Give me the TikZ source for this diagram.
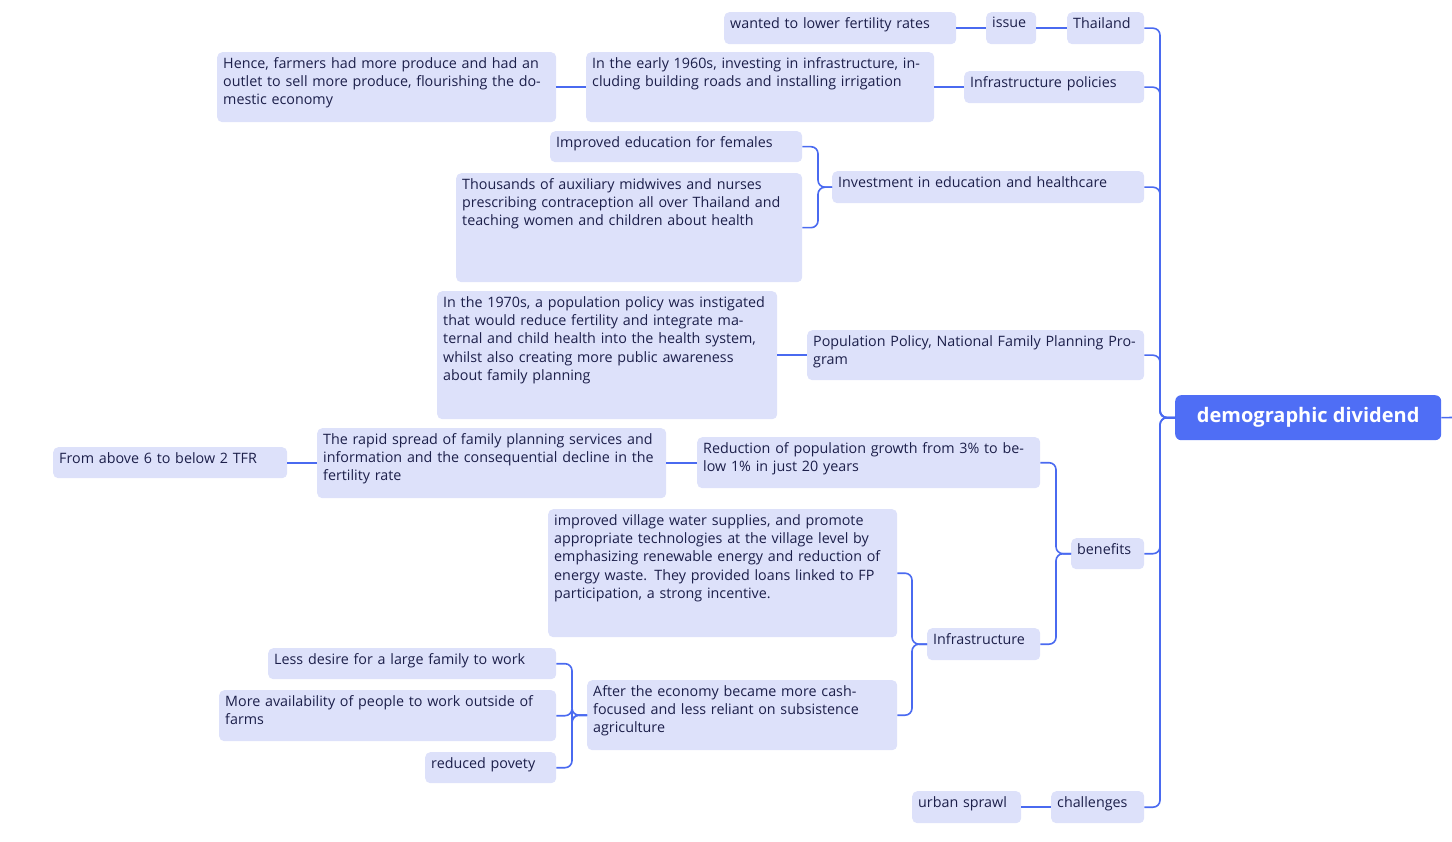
\documentclass[tikz,border=0pt]{standalone}
\usepackage{fontspec}
\setmainfont{Open Sans}
\definecolor{bfill}{HTML}{DDE1FA}
\definecolor{lnc}{HTML}{4A6AF0}
\definecolor{rootc}{HTML}{4F6EF5}
\definecolor{txt}{HTML}{1C1F4A}
\newcommand{\bx}[6]{%
  \node[boxs,minimum width={#4-#2},minimum height={#5-#3},anchor=north west] (#1) at (#2,#3) {};
  \node[txts,text width={#4-#2-12}] (#1t) at ([xshift=6,yshift=-5]#1.north west) {#6};}
\begin{document}
\begin{tikzpicture}[x=1pt,y=-1pt,
  boxs/.style={fill=bfill,rounded corners=5pt,inner sep=0pt,draw=none},
  txts/.style={anchor=north west,inner sep=0pt,align=left,text=txt,font=\fontsize{14.3}{18.4}\selectfont},
  ln/.style={draw=lnc,line width=1.6pt,rounded corners=7pt}]
\useasboundingbox (0,0) rectangle (1452,842);
\bx{thai}{1067}{12}{1144}{44}{Thailand}
\bx{issue}{986}{12}{1036}{44}{issue}
\bx{want}{724}{12}{956}{44}{wanted to lower fertility rates}
\bx{ipol}{964}{71}{1144}{103}{Infrastructure policies}
\bx{e60}{586}{52}{934}{122}{In the early 1960s, investing in infrastructure, including building roads and installing irrigation}
\bx{hence}{217}{52}{556}{122}{Hence, farmers had more produce and had an outlet to sell more produce, flourishing the domestic economy}
\bx{inv}{832}{171}{1144}{203}{Investment in education and healthcare}
\bx{ied}{550}{131}{802}{162}{Improved education for females}
\bx{thou}{456}{173}{802}{282}{Thousands of auxiliary midwives and nurses prescribing contraception all over Thailand and teaching women and children about health}
\bx{pop}{807}{330}{1144}{380}{Population Policy, National Family Planning Program}
\bx{s70}{437}{291}{777}{419}{In the 1970s, a population policy was instigated that would reduce fertility and integrate maternal and child health into the health system, whilst also creating more public awareness about family planning}
\bx{ben}{1071}{538}{1144}{569}{benefits}
\bx{red}{697}{437}{1040}{488}{Reduction of population growth from 3\% to below 1\% in just 20 years}
\bx{rap}{317}{428}{666}{498}{The rapid spread of family planning services and information and the consequential decline in the fertility rate}
\bx{from}{53}{447}{287}{478}{From above 6 to below 2 TFR}
\bx{infra}{927}{628}{1040}{660}{Infrastructure}
\bx{vil}{548}{509}{897}{637}{improved village water supplies, and promote appropriate technologies at the village level by emphasizing renewable energy and reduction of energy waste. They provided loans linked to FP participation, a strong incentive.}
\bx{aft}{587}{680}{897}{750}{After the economy became more cash-focused and less reliant on subsistence agriculture}
\bx{less}{268}{648}{556}{679}{Less desire for a large family to work}
\bx{more}{219}{690}{556}{741}{More availability of people to work outside of farms}
\bx{pov}{425}{752}{556}{783}{reduced povety}
\bx{chal}{1051}{791}{1144}{823}{challenges}
\bx{urb}{912}{791}{1021}{823}{urban sprawl}
\node[fill=rootc,rounded corners=6pt,minimum width=266,minimum height=45,anchor=north west,inner sep=0pt,text=white,font=\fontsize{20}{24}\selectfont\bfseries] (root) at (1175,395) {demographic dividend};
\coordinate (rstub) at (1452,417.5);
\draw[ln] (root.east) -- (rstub);
% trunk
\foreach \c in {thai,ipol,inv,pop,ben,chal}{\draw[ln] (root.west) -- ++(-15,0) |- (\c.east);}
\draw[ln] (issue.east) -- (thai.west);
\draw[ln] (want.east) -- (issue.west);
\draw[ln] (e60.east) -- (ipol.west);
\draw[ln] (hence.east) -- (e60.west);
\foreach \c in {ied,thou}{\draw[ln] (inv.west) -- ++(-14,0) |- (\c.east);}
\draw[ln] (s70.east) -- (pop.west);
\foreach \c in {red,infra}{\draw[ln] (ben.west) -- ++(-15,0) |- (\c.east);}
\draw[ln] (rap.east) -- (red.west |- rap.east);
\draw[ln] (from.east) -- (rap.west |- from.east);
\foreach \c in {vil,aft}{\draw[ln] (infra.west) -- ++(-15,0) |- (\c.east);}
\foreach \c in {less,more,pov}{\draw[ln] (aft.west) -- ++(-15,0) |- (\c.east);}
\draw[ln] (urb.east) -- (chal.west);
\end{tikzpicture}
\end{document}
